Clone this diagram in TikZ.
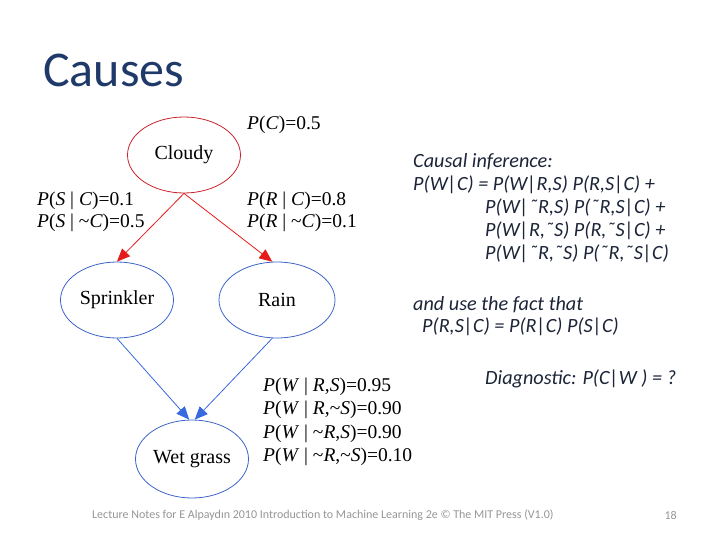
\documentclass[tikz,border=0pt]{standalone}
\usepackage{fontspec}
\setmainfont{Liberation Serif}
\newfontfamily\slidefont{Carlito}
\usetikzlibrary{shapes.geometric,arrows.meta}
\definecolor{titleblue}{RGB}{31,58,105}
\definecolor{bodyink}{RGB}{28,36,56}
\definecolor{cloudred}{RGB}{200,35,45}
\definecolor{arrowred}{RGB}{228,28,28}
\definecolor{nodeblue}{RGB}{60,100,200}
\definecolor{arrowblue}{RGB}{55,105,225}
\definecolor{footgray}{RGB}{150,150,150}
\newcommand{\pv}[1]{\textit{#1}}
\newcommand{\nt}{\char"02DC}
\tikzset{
  var/.style={ellipse,draw=nodeblue,line width=0.8pt,minimum width=113pt,
    minimum height=76pt,inner sep=0pt,font=\fontsize{20}{24}\selectfont},
  cpt/.style={anchor=west,inner sep=0pt,font=\fontsize{19.5}{23}\selectfont},
  infer/.style={anchor=west,inner sep=0pt,text=bodyink,
    font=\slidefont\itshape\fontsize{20.2}{24}\selectfont},
  redarrow/.style={draw=arrowred,line width=0.8pt,
    -{Triangle[length=13pt,width=11pt]}},
  bluearrow/.style={draw=arrowblue,line width=0.8pt,
    -{Triangle[length=13pt,width=11pt]}}
}
\begin{document}
\begin{tikzpicture}[x=1pt,y=-1pt]
  \useasboundingbox (0,0) rectangle (720,540);
  \node[anchor=west,inner sep=0pt,text=titleblue,
    font=\slidefont\fontsize{50}{54}\selectfont] (title) at (43,70) {Causes};
  % network
  \node[var,draw=cloudred] (cloudy) at (184,155) {Cloudy};
  \node[var] (sprinkler) at (117,300) {Sprinkler};
  \node[var,minimum width=116pt] (rain) at (277,300) {Rain};
  \node[var,minimum height=78pt] (wet) at (192,459) {Wet grass};
  \draw[redarrow] (cloudy.south) to (sprinkler.north);
  \draw[redarrow] (cloudy.south) to (rain.97);
  \draw[bluearrow] (sprinkler.south) to (wet.94);
  \draw[bluearrow] (rain.-97) to (wet.86);
  % conditional tables
  \node[cpt] (pc) at (247,125) {\pv{P}(\pv{C})=0.5};
  \node[cpt] (psc) at (37,201) {\pv{P}(\pv{S} | \pv{C})=0.1};
  \node[cpt] (psnc) at (37,223) {\pv{P}(\pv{S} | \textasciitilde\pv{C})=0.5};
  \node[cpt] (prc) at (247,201) {\pv{P}(\pv{R} | \pv{C})=0.8};
  \node[cpt] (prnc) at (247,223) {\pv{P}(\pv{R} | \textasciitilde\pv{C})=0.1};
  \node[cpt] (pw1) at (263,387) {\pv{P}(\pv{W} | \pv{R},\pv{S})=0.95};
  \node[cpt] (pw2) at (263,410) {\pv{P}(\pv{W} | \pv{R},\textasciitilde\pv{S})=0.90};
  \node[cpt] (pw3) at (263,434) {\pv{P}(\pv{W} | \textasciitilde\pv{R},\pv{S})=0.90};
  \node[cpt] (pw4) at (263,457) {\pv{P}(\pv{W} | \textasciitilde\pv{R},\textasciitilde\pv{S})=0.10};
  % inference text
  \node[infer] (causal) at (413,162) {Causal inference:};
  \node[infer] (sum1) at (413,185) {P(W|C) = P(W|R,S) P(R,S|C) +};
  \node[infer] (sum2) at (485,208) {P(W|\nt R,S) P(\nt R,S|C) +};
  \node[infer] (sum3) at (485,231) {P(W|R,\nt S) P(R,\nt S|C) +};
  \node[infer] (sum4) at (485,254) {P(W|\nt R,\nt S) P(\nt R,\nt S|C)};
  \node[infer] (fact) at (413,305) {and use the fact that};
  \node[infer] (indep) at (422,327) {P(R,S|C) = P(R|C) P(S|C)};
  \node[infer] (diag) at (485,379) {Diagnostic: P(C|W ) = ?};
  % footer
  \node[anchor=west,inner sep=0pt,text=footgray,
    font=\slidefont\fontsize{12}{14}\selectfont] (foot) at (92,515)
    {Lecture Notes for E Alpaydın 2010 Introduction to Machine Learning 2e © The MIT Press (V1.0)};
  \node[anchor=east,inner sep=0pt,text=footgray,
    font=\slidefont\fontsize{12}{14}\selectfont] (page) at (677,515) {18};
\end{tikzpicture}
\end{document}
